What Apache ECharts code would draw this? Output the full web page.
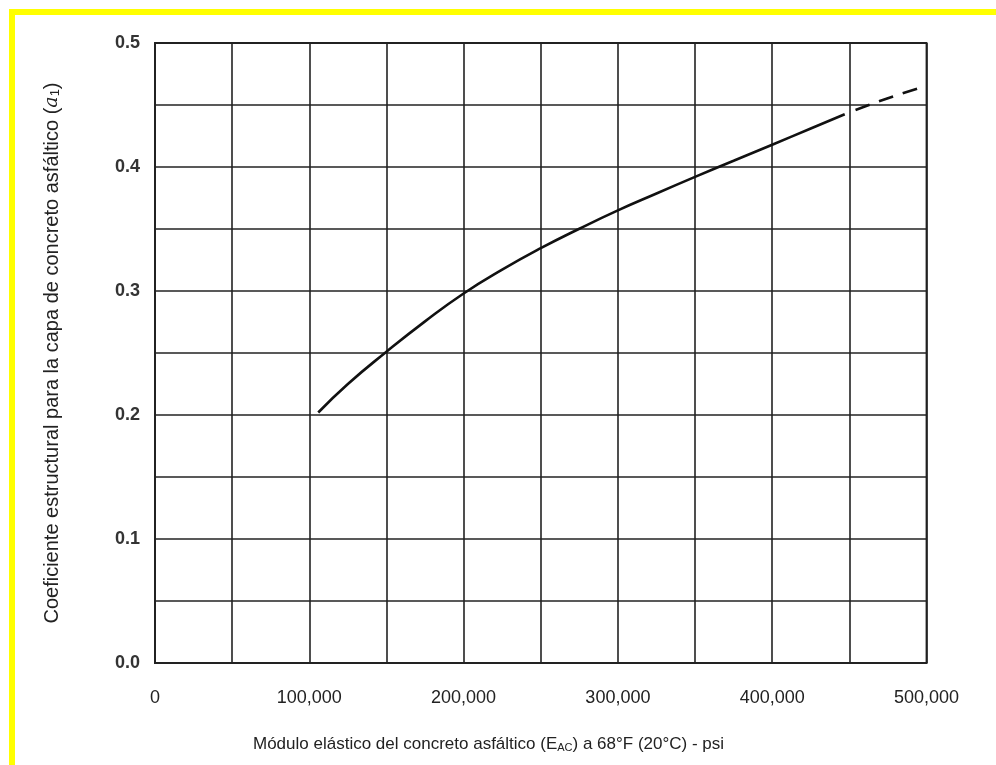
<!DOCTYPE html>
<html>
<head>
<meta charset="utf-8">
<script src="https://cdn.jsdelivr.net/npm/echarts@6/dist/echarts.min.js"></script>
<style>
html,body{margin:0;padding:0;background:#fff;}
#c{width:996px;height:765px;}
</style>
</head>
<body>
<div id="c"></div>
<script>
// Solid part of the curve (modulus in psi, coefficient a1)
const solidModulus = [105800, 125000, 150000, 175000, 200000, 225000, 250000, 275000, 300000, 325000, 350000, 375000, 400000, 425000, 447000];
const solidCoef    = [0.202, 0.2250, 0.251, 0.2755, 0.298, 0.3172, 0.3345, 0.3502, 0.365, 0.3786, 0.392, 0.405, 0.418, 0.431, 0.4425];
// Dashed extrapolation
const dashModulus = [454000, 475000, 497000];
const dashCoef    = [0.446, 0.4555, 0.4643];
// Tick labels
const xTickLabels = {0: '0', 100000: '100,000', 200000: '200,000', 300000: '300,000', 400000: '400,000', 500000: '500,000'};
const yTickLabels = {0: '0.0', 0.1: '0.1', 0.2: '0.2', 0.3: '0.3', 0.4: '0.4', 0.5: '0.5'};

const chart = echarts.init(document.getElementById('c'), null, {renderer: 'canvas'});
const font = '"Liberation Sans", Arial, sans-serif';
const zip = (a, b) => a.map((v, i) => [v, b[i]]);

function yLabel(v) {
  const k = Math.round(v * 100) / 100;
  return yTickLabels[k] !== undefined ? yTickLabels[k] : '';
}

chart.setOption({
  backgroundColor: '#ffffff',
  animation: false,
  grid: {left: 155, top: 43, width: 771.5, height: 620, show: true, borderColor: '#222', borderWidth: 1.8, backgroundColor: 'transparent'},
  xAxis: {
    type: 'value', min: 0, max: 500000, interval: 50000,
    axisLine: {show: true, lineStyle: {color: '#222', width: 1.8}},
    axisTick: {show: false},
    splitLine: {show: true, lineStyle: {color: '#222', width: 1.6}},
    axisLabel: {
      margin: 26, color: '#222', fontFamily: font, fontSize: 18,
      formatter: v => (xTickLabels[v] !== undefined ? xTickLabels[v] : '')
    }
  },
  yAxis: {
    type: 'value', min: 0, max: 0.5, interval: 0.05,
    name: '{n|Coeficiente estructural para la capa de concreto asfáltico (}{i|a}{s|1}{n|)}',
    nameLocation: 'middle', nameGap: 93, nameRotate: 90,
    nameTextStyle: {
      rich: {
        n: {fontFamily: font, fontSize: 20, color: '#222'},
        i: {fontFamily: '"DejaVu Serif", serif', fontStyle: 'italic', fontSize: 19, color: '#222'},
        s: {fontFamily: font, fontSize: 13, color: '#222', verticalAlign: 'bottom', padding: [7, 0, 0, 0]}
      }
    },
    axisLine: {show: true, lineStyle: {color: '#222', width: 1.8}},
    axisTick: {show: false},
    splitLine: {show: true, lineStyle: {color: '#222', width: 1.6}},
    axisLabel: {
      margin: 15, color: '#333', fontFamily: font, fontSize: 18, fontWeight: 'bold',
      formatter: v => yLabel(v)
    }
  },
  series: [
    {
      type: 'line', data: zip(solidModulus, solidCoef), smooth: 0.5, showSymbol: false,
      lineStyle: {color: '#111', width: 2.6}, z: 5
    },
    {
      type: 'line', data: zip(dashModulus, dashCoef), smooth: 0.3, showSymbol: false,
      lineStyle: {color: '#111', width: 2.6, type: [15, 10]}, z: 5
    }
  ],
  graphic: [
    {type: 'rect', shape: {x: 9, y: 9, width: 987, height: 6}, style: {fill: '#ffff00'}, z: 100},
    {type: 'rect', shape: {x: 9, y: 9, width: 6, height: 756}, style: {fill: '#ffff00'}, z: 100},
    {
      type: 'text', left: 253, top: 736, z: 100,
      style: {
        text: '{n|Módulo elástico del concreto asfáltico (E}{s|AC}{n|) a 68°F (20°C) - psi}',
        rich: {
          n: {fontFamily: font, fontSize: 17, fill: '#222'},
          s: {fontFamily: font, fontSize: 11, fill: '#222', verticalAlign: 'bottom', padding: [7, 0, 0, 0]}
        }
      }
    }
  ]
});
</script>
</body>
</html>
